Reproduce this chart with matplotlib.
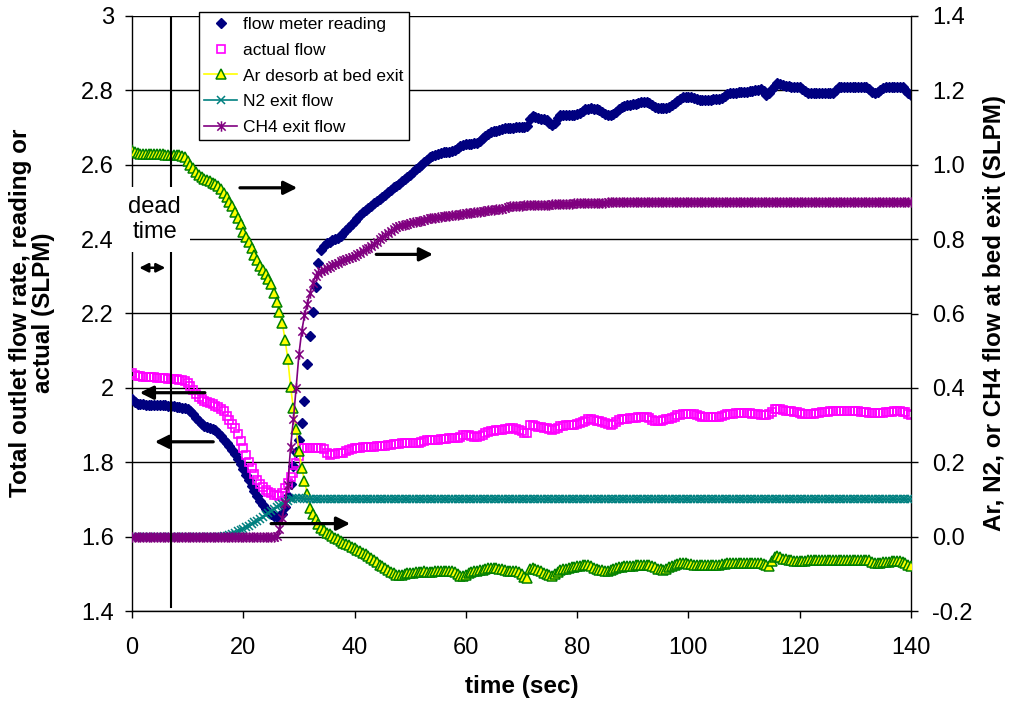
import numpy as np
import matplotlib
matplotlib.use("Agg")
import matplotlib.pyplot as plt
from matplotlib.path import Path

plt.rcParams['font.family'] = ['Liberation Sans', 'DejaVu Sans']

# ---------------- data (0.5 s sampling, t = 0 ... 140 s) ----------------
time_s = np.arange(281) * 0.5

flow_meter = [
    1.971, 1.962, 1.957, 1.956, 1.956, 1.955, 1.955, 1.955, 1.954, 1.954,
    1.954, 1.953, 1.953, 1.952, 1.951, 1.950, 1.949, 1.948, 1.947, 1.946,
    1.943, 1.937, 1.929, 1.919, 1.910, 1.903, 1.898, 1.894, 1.891, 1.889,
    1.886, 1.879, 1.870, 1.861, 1.853, 1.845, 1.832, 1.821, 1.808, 1.795,
    1.781, 1.766, 1.751, 1.737, 1.723, 1.709, 1.696, 1.684, 1.674, 1.666,
    1.660, 1.655, 1.652, 1.655, 1.662, 1.680, 1.710, 1.742, 1.790, 1.828,
    1.860, 1.905, 1.965, 2.065, 2.140, 2.205, 2.270, 2.336, 2.370, 2.381,
    2.389, 2.393, 2.397, 2.400, 2.404, 2.409, 2.416, 2.424, 2.432, 2.440,
    2.448, 2.457, 2.466, 2.473, 2.478, 2.484, 2.490, 2.497, 2.503, 2.509,
    2.514, 2.520, 2.527, 2.533, 2.539, 2.544, 2.549, 2.555, 2.561, 2.567,
    2.573, 2.581, 2.588, 2.593, 2.600, 2.607, 2.613, 2.621, 2.624, 2.627,
    2.629, 2.631, 2.633, 2.634, 2.635, 2.636, 2.639, 2.644, 2.650, 2.654,
    2.655, 2.656, 2.657, 2.658, 2.659, 2.664, 2.671, 2.678, 2.684, 2.688,
    2.690, 2.692, 2.694, 2.696, 2.698, 2.699, 2.700, 2.700, 2.701, 2.701,
    2.702, 2.702, 2.703, 2.722, 2.730, 2.728, 2.725, 2.723, 2.722, 2.720,
    2.713, 2.706, 2.712, 2.726, 2.733, 2.734, 2.734, 2.734, 2.734, 2.734,
    2.736, 2.740, 2.745, 2.749, 2.751, 2.752, 2.751, 2.750, 2.748, 2.742,
    2.736, 2.734, 2.734, 2.736, 2.743, 2.750, 2.756, 2.759, 2.761, 2.762,
    2.763, 2.764, 2.766, 2.768, 2.769, 2.770, 2.766, 2.760, 2.754, 2.752,
    2.752, 2.752, 2.752, 2.756, 2.762, 2.767, 2.771, 2.776, 2.781, 2.782,
    2.782, 2.781, 2.779, 2.777, 2.775, 2.775, 2.775, 2.775, 2.775, 2.776,
    2.776, 2.777, 2.780, 2.785, 2.790, 2.793, 2.794, 2.794, 2.795, 2.795,
    2.796, 2.796, 2.797, 2.798, 2.800, 2.802, 2.803, 2.797, 2.788, 2.792,
    2.803, 2.813, 2.820, 2.817, 2.814, 2.813, 2.811, 2.810, 2.810, 2.810,
    2.810, 2.805, 2.797, 2.793, 2.793, 2.793, 2.793, 2.793, 2.793, 2.793,
    2.793, 2.793, 2.793, 2.800, 2.808, 2.810, 2.810, 2.810, 2.810, 2.810,
    2.810, 2.810, 2.810, 2.810, 2.810, 2.804, 2.796, 2.793, 2.795, 2.800,
    2.806, 2.810, 2.810, 2.810, 2.810, 2.810, 2.810, 2.808, 2.800, 2.794,
    2.788,
]

actual_flow = [
    2.040, 2.035, 2.032, 2.031, 2.030, 2.029, 2.029, 2.028, 2.028, 2.027,
    2.027, 2.026, 2.026, 2.025, 2.024, 2.023, 2.023, 2.022, 2.020, 2.018,
    2.014, 2.004, 1.993, 1.983, 1.975, 1.970, 1.966, 1.963, 1.959, 1.956,
    1.952, 1.948, 1.943, 1.937, 1.925, 1.913, 1.902, 1.891, 1.877, 1.858,
    1.838, 1.820, 1.800, 1.784, 1.768, 1.753, 1.742, 1.733, 1.726, 1.720,
    1.716, 1.713, 1.711, 1.709, 1.716, 1.732, 1.744, 1.760, 1.771, 1.798,
    1.818, 1.838, 1.839, 1.838, 1.838, 1.838, 1.839, 1.838, 1.838, 1.835,
    1.826, 1.820, 1.822, 1.823, 1.824, 1.825, 1.826, 1.829, 1.832, 1.835,
    1.837, 1.838, 1.839, 1.840, 1.840, 1.841, 1.842, 1.842, 1.843, 1.844,
    1.844, 1.845, 1.846, 1.847, 1.848, 1.849, 1.850, 1.851, 1.852, 1.852,
    1.852, 1.852, 1.853, 1.853, 1.855, 1.857, 1.859, 1.860, 1.860, 1.861,
    1.861, 1.862, 1.862, 1.863, 1.864, 1.864, 1.865, 1.865, 1.867, 1.874,
    1.874, 1.873, 1.871, 1.869, 1.868, 1.870, 1.874, 1.878, 1.882, 1.883,
    1.884, 1.886, 1.887, 1.888, 1.889, 1.890, 1.892, 1.892, 1.890, 1.887,
    1.884, 1.880, 1.879, 1.901, 1.900, 1.898, 1.896, 1.894, 1.892, 1.891,
    1.890, 1.888, 1.889, 1.893, 1.897, 1.898, 1.899, 1.900, 1.901, 1.901,
    1.902, 1.905, 1.909, 1.912, 1.915, 1.915, 1.913, 1.911, 1.910, 1.908,
    1.905, 1.902, 1.901, 1.904, 1.909, 1.913, 1.915, 1.916, 1.917, 1.918,
    1.919, 1.920, 1.921, 1.922, 1.923, 1.923, 1.919, 1.914, 1.910, 1.910,
    1.911, 1.913, 1.915, 1.917, 1.920, 1.923, 1.926, 1.928, 1.929, 1.929,
    1.930, 1.930, 1.929, 1.927, 1.925, 1.923, 1.923, 1.923, 1.923, 1.923,
    1.923, 1.923, 1.925, 1.928, 1.930, 1.931, 1.931, 1.932, 1.932, 1.932,
    1.932, 1.932, 1.932, 1.931, 1.930, 1.929, 1.928, 1.928, 1.928, 1.929,
    1.936, 1.942, 1.943, 1.942, 1.940, 1.938, 1.937, 1.937, 1.935, 1.934,
    1.932, 1.931, 1.930, 1.930, 1.930, 1.931, 1.932, 1.933, 1.934, 1.935,
    1.936, 1.937, 1.937, 1.937, 1.937, 1.937, 1.937, 1.937, 1.937, 1.937,
    1.937, 1.937, 1.936, 1.935, 1.934, 1.933, 1.932, 1.932, 1.932, 1.932,
    1.933, 1.934, 1.935, 1.936, 1.937, 1.937, 1.937, 1.936, 1.934, 1.930,
    1.928,
]

ar_desorb = [
    1.040, 1.033, 1.031, 1.030, 1.030, 1.029, 1.029, 1.029, 1.028, 1.028,
    1.028, 1.028, 1.027, 1.027, 1.027, 1.026, 1.026, 1.025, 1.024, 1.020,
    1.011, 1.000, 0.990, 0.980, 0.973, 0.967, 0.962, 0.958, 0.955, 0.952,
    0.948, 0.942, 0.934, 0.924, 0.912, 0.899, 0.888, 0.874, 0.858, 0.840,
    0.820, 0.806, 0.792, 0.776, 0.757, 0.743, 0.727, 0.716, 0.705, 0.694,
    0.680, 0.655, 0.630, 0.603, 0.575, 0.530, 0.478, 0.403, 0.345, 0.290,
    0.230, 0.185, 0.150, 0.115, 0.078, 0.062, 0.048, 0.034, 0.024, 0.017,
    0.010, 0.006, 0.002, -0.003, -0.007, -0.012, -0.016, -0.020, -0.023, -0.027,
    -0.031, -0.035, -0.039, -0.043, -0.048, -0.053, -0.058, -0.063, -0.068, -0.075,
    -0.080, -0.084, -0.089, -0.094, -0.099, -0.102, -0.103, -0.102, -0.100, -0.099,
    -0.098, -0.097, -0.096, -0.095, -0.094, -0.093, -0.094, -0.095, -0.094, -0.093,
    -0.093, -0.092, -0.092, -0.093, -0.093, -0.093, -0.095, -0.100, -0.106, -0.107,
    -0.102, -0.097, -0.094, -0.093, -0.092, -0.091, -0.089, -0.087, -0.085, -0.084,
    -0.084, -0.084, -0.086, -0.088, -0.090, -0.092, -0.093, -0.093, -0.093, -0.095,
    -0.100, -0.108, -0.111, -0.086, -0.084, -0.086, -0.089, -0.093, -0.097, -0.101,
    -0.104, -0.107, -0.100, -0.094, -0.089, -0.088, -0.086, -0.084, -0.082, -0.081,
    -0.080, -0.078, -0.077, -0.075, -0.077, -0.080, -0.084, -0.087, -0.089, -0.091,
    -0.092, -0.093, -0.091, -0.088, -0.085, -0.083, -0.081, -0.080, -0.080, -0.079,
    -0.078, -0.077, -0.076, -0.076, -0.075, -0.075, -0.077, -0.080, -0.083, -0.086,
    -0.088, -0.089, -0.086, -0.082, -0.078, -0.075, -0.073, -0.071, -0.071, -0.072,
    -0.073, -0.074, -0.075, -0.075, -0.075, -0.075, -0.075, -0.075, -0.075, -0.075,
    -0.075, -0.075, -0.074, -0.073, -0.072, -0.071, -0.071, -0.071, -0.071, -0.071,
    -0.071, -0.071, -0.071, -0.071, -0.071, -0.071, -0.072, -0.074, -0.077, -0.080,
    -0.065, -0.055, -0.053, -0.056, -0.059, -0.061, -0.063, -0.064, -0.065, -0.066,
    -0.066, -0.065, -0.065, -0.064, -0.064, -0.063, -0.063, -0.063, -0.062, -0.062,
    -0.062, -0.062, -0.062, -0.062, -0.062, -0.062, -0.062, -0.062, -0.062, -0.062,
    -0.062, -0.062, -0.062, -0.062, -0.062, -0.064, -0.067, -0.070, -0.071, -0.070,
    -0.069, -0.068, -0.067, -0.066, -0.066, -0.066, -0.066, -0.067, -0.070, -0.075,
    -0.080,
]

n2_exit = [
    0.000, 0.000, 0.000, 0.000, 0.000, 0.000, 0.000, 0.000, 0.000, 0.000,
    0.000, 0.000, 0.000, 0.000, 0.000, 0.000, 0.000, 0.000, 0.000, 0.000,
    0.000, 0.000, 0.000, 0.000, 0.000, 0.000, 0.000, 0.000, 0.000, 0.000,
    0.000, 0.000, 0.000, 0.001, 0.003, 0.005, 0.008, 0.011, 0.014, 0.018,
    0.021, 0.025, 0.029, 0.033, 0.038, 0.043, 0.048, 0.053, 0.058, 0.063,
    0.068, 0.074, 0.079, 0.084, 0.089, 0.093, 0.097, 0.100, 0.102, 0.103,
    0.103, 0.103, 0.102, 0.101, 0.101, 0.100, 0.100, 0.100, 0.100, 0.100,
    0.100, 0.100, 0.100, 0.100, 0.100, 0.100, 0.100, 0.100, 0.100, 0.100,
    0.100, 0.100, 0.100, 0.100, 0.100, 0.100, 0.100, 0.100, 0.100, 0.100,
    0.100, 0.100, 0.100, 0.100, 0.100, 0.100, 0.100, 0.100, 0.100, 0.100,
    0.100, 0.100, 0.100, 0.100, 0.100, 0.100, 0.100, 0.100, 0.100, 0.100,
    0.100, 0.100, 0.100, 0.100, 0.100, 0.100, 0.100, 0.100, 0.100, 0.100,
    0.100, 0.100, 0.100, 0.100, 0.100, 0.100, 0.100, 0.100, 0.100, 0.100,
    0.100, 0.100, 0.100, 0.100, 0.100, 0.100, 0.100, 0.100, 0.100, 0.100,
    0.100, 0.100, 0.100, 0.100, 0.100, 0.100, 0.100, 0.100, 0.100, 0.100,
    0.100, 0.100, 0.100, 0.100, 0.100, 0.100, 0.100, 0.100, 0.100, 0.100,
    0.100, 0.100, 0.100, 0.100, 0.100, 0.100, 0.100, 0.100, 0.100, 0.100,
    0.100, 0.100, 0.100, 0.100, 0.100, 0.100, 0.100, 0.100, 0.100, 0.100,
    0.100, 0.100, 0.100, 0.100, 0.100, 0.100, 0.100, 0.100, 0.100, 0.100,
    0.100, 0.100, 0.100, 0.100, 0.100, 0.100, 0.100, 0.100, 0.100, 0.100,
    0.100, 0.100, 0.100, 0.100, 0.100, 0.100, 0.100, 0.100, 0.100, 0.100,
    0.100, 0.100, 0.100, 0.100, 0.100, 0.100, 0.100, 0.100, 0.100, 0.100,
    0.100, 0.100, 0.100, 0.100, 0.100, 0.100, 0.100, 0.100, 0.100, 0.100,
    0.100, 0.100, 0.100, 0.100, 0.100, 0.100, 0.100, 0.100, 0.100, 0.100,
    0.100, 0.100, 0.100, 0.100, 0.100, 0.100, 0.100, 0.100, 0.100, 0.100,
    0.100, 0.100, 0.100, 0.100, 0.100, 0.100, 0.100, 0.100, 0.100, 0.100,
    0.100, 0.100, 0.100, 0.100, 0.100, 0.100, 0.100, 0.100, 0.100, 0.100,
    0.100, 0.100, 0.100, 0.100, 0.100, 0.100, 0.100, 0.100, 0.100, 0.100,
    0.100,
]

ch4_exit = [
    0.000, 0.000, 0.000, 0.000, 0.000, 0.000, 0.000, 0.000, 0.000, 0.000,
    0.000, 0.000, 0.000, 0.000, 0.000, 0.000, 0.000, 0.000, 0.000, 0.000,
    0.000, 0.000, 0.000, 0.000, 0.000, 0.000, 0.000, 0.000, 0.000, 0.000,
    0.000, 0.000, 0.000, 0.000, 0.000, 0.000, 0.000, 0.000, 0.000, 0.000,
    0.000, 0.000, 0.000, 0.000, 0.000, 0.000, 0.000, 0.000, 0.000, 0.000,
    0.000, 0.000, 0.003, 0.020, 0.050, 0.090, 0.140, 0.240, 0.315, 0.400,
    0.490, 0.552, 0.595, 0.626, 0.656, 0.682, 0.701, 0.709, 0.714, 0.718,
    0.722, 0.726, 0.730, 0.733, 0.737, 0.740, 0.743, 0.746, 0.749, 0.752,
    0.755, 0.760, 0.764, 0.768, 0.773, 0.777, 0.782, 0.788, 0.793, 0.799,
    0.805, 0.810, 0.816, 0.822, 0.827, 0.832, 0.835, 0.837, 0.839, 0.841,
    0.843, 0.845, 0.847, 0.848, 0.850, 0.852, 0.854, 0.856, 0.857, 0.858,
    0.859, 0.860, 0.861, 0.862, 0.863, 0.864, 0.865, 0.866, 0.867, 0.868,
    0.869, 0.870, 0.871, 0.872, 0.873, 0.874, 0.875, 0.876, 0.877, 0.878,
    0.879, 0.880, 0.881, 0.882, 0.883, 0.887, 0.889, 0.889, 0.890, 0.890,
    0.890, 0.891, 0.891, 0.891, 0.892, 0.892, 0.892, 0.893, 0.893, 0.893,
    0.893, 0.894, 0.894, 0.894, 0.894, 0.895, 0.895, 0.895, 0.895, 0.896,
    0.896, 0.896, 0.896, 0.897, 0.897, 0.897, 0.897, 0.898, 0.898, 0.898,
    0.898, 0.899, 0.899, 0.899, 0.899, 0.899, 0.900, 0.900, 0.900, 0.900,
    0.900, 0.900, 0.900, 0.901, 0.901, 0.901, 0.901, 0.901, 0.901, 0.901,
    0.901, 0.901, 0.901, 0.901, 0.901, 0.901, 0.901, 0.901, 0.901, 0.901,
    0.900, 0.900, 0.900, 0.900, 0.900, 0.900, 0.900, 0.900, 0.900, 0.900,
    0.900, 0.900, 0.900, 0.900, 0.900, 0.900, 0.900, 0.900, 0.900, 0.900,
    0.900, 0.900, 0.900, 0.901, 0.901, 0.901, 0.901, 0.901, 0.901, 0.901,
    0.901, 0.901, 0.901, 0.901, 0.901, 0.901, 0.901, 0.901, 0.901, 0.901,
    0.901, 0.901, 0.901, 0.901, 0.901, 0.901, 0.901, 0.901, 0.901, 0.901,
    0.901, 0.901, 0.901, 0.901, 0.901, 0.901, 0.901, 0.901, 0.901, 0.901,
    0.901, 0.901, 0.901, 0.901, 0.901, 0.901, 0.901, 0.901, 0.901, 0.901,
    0.901, 0.901, 0.901, 0.901, 0.901, 0.901, 0.901, 0.901, 0.901, 0.901,
    0.901,
]

x_ticks = [0, 20, 40, 60, 80, 100, 120, 140]
left_ticks = [1.4, 1.6, 1.8, 2.0, 2.2, 2.4, 2.6, 2.8, 3.0]
left_labels = ["1.4", "1.6", "1.8", "2", "2.2", "2.4", "2.6", "2.8", "3"]
right_ticks = [-0.2, 0.0, 0.2, 0.4, 0.6, 0.8, 1.0, 1.2, 1.4]
right_labels = ["-0.2", "0.0", "0.2", "0.4", "0.6", "0.8", "1.0", "1.2", "1.4"]
dead_time = 7.0

# ---------------- figure ----------------
fig = plt.figure(figsize=(10.1, 7.02), dpi=100)
ax = fig.add_axes([132 / 1010, 91 / 702, 779 / 1010, 595 / 702])
ax2 = ax.twinx()

ax.set_xlim(0, 140)
ax.set_ylim(1.4, 3.0)
ax2.set_ylim(-0.2, 1.4)

# asterisk marker (x with a vertical bar)
star = Path([(-1, -1), (1, 1), (-1, 1), (1, -1), (0, -1.25), (0, 1.25)],
            [Path.MOVETO, Path.LINETO, Path.MOVETO, Path.LINETO, Path.MOVETO, Path.LINETO])

ax.plot(time_s, flow_meter, linestyle='none', marker='D', ms=5.2,
        color='#000080', mec='#000080', label='flow meter reading', zorder=3)
ax.plot(time_s, actual_flow, linestyle='none', marker='s', ms=5.6, mfc='none',
        mec='#FF00FF', mew=1.2, label='actual flow', zorder=3)

ax2.plot(time_s, ar_desorb, color='#FFFF00', lw=1.2, marker='^', ms=6.8,
         mfc='#FFFF00', mec='#008000', mew=1.1, label='Ar desorb at bed exit', zorder=3)
ax2.plot(time_s, n2_exit, color='#008080', lw=1.2, marker='x', ms=5.8,
         mew=1.1, label='N2 exit flow', zorder=3)
ax2.plot(time_s, ch4_exit, color='#800080', lw=1.2, marker=star, ms=7.5,
         mfc='none', mec='#800080', mew=1.1, label='CH4 exit flow', zorder=3)

# axes styling
ax.set_xticks(x_ticks)
ax.set_yticks(left_ticks)
ax.set_yticklabels(left_labels)
ax2.set_yticks(right_ticks)
ax2.set_yticklabels(right_labels)

ax.yaxis.grid(True, color='black', lw=1.0)
ax.set_axisbelow(True)

for s in ['top', 'right']:
    ax.spines[s].set_visible(False)
for s in ['top', 'left', 'bottom']:
    ax2.spines[s].set_visible(False)
for sp in [ax.spines['left'], ax.spines['bottom'], ax2.spines['right']]:
    sp.set_color('black')
    sp.set_linewidth(1.0)

ax.tick_params(axis='x', direction='out', length=5, width=1, pad=14, labelsize=17)
ax.tick_params(axis='y', direction='out', length=5, width=1, pad=8, labelsize=17)
ax2.tick_params(axis='y', direction='out', length=5, width=1, pad=10, labelsize=17)

# axis titles
fig.text(522 / 1010, 1 - 687 / 702, 'time (sec)', ha='center', va='center',
         fontsize=17.5, fontweight='bold')
fig.text(32 / 1010, 1 - 313 / 702, 'Total outlet flow rate, reading or\nactual (SLPM)',
         rotation=90, ha='center', va='center', fontsize=17.5, fontweight='bold',
         multialignment='center', linespacing=1.05)
fig.text(995 / 1010, 1 - 313 / 702, 'Ar, N2, or CH4 flow at bed exit (SLPM)',
         rotation=90, ha='center', va='center', fontsize=17.5, fontweight='bold')

# dead-time marker line
ax2.axvline(dead_time, ymin=0.006, ymax=0.997, color='black', lw=1.5, zorder=4)

# dead time label (white box breaks the lines)
ax2.text(4.1, 0.852, 'dead\ntime', ha='center', va='center', fontsize=17,
         linespacing=1.2, zorder=10, clip_on=False,
         bbox=dict(facecolor='white', edgecolor='none', pad=6.5))

# arrows (in right-axis coordinates)
arrow_kw = dict(arrowstyle='-|>', color='black', lw=2.3, mutation_scale=20,
                shrinkA=0, shrinkB=0)
ax2.annotate('', xy=(29.7, 0.938), xytext=(19.4, 0.938), arrowprops=arrow_kw, zorder=6)
ax2.annotate('', xy=(54.1, 0.759), xytext=(43.9, 0.759), arrowprops=arrow_kw, zorder=6)
ax2.annotate('', xy=(1.4, 0.387), xytext=(13.1, 0.387), arrowprops=arrow_kw, zorder=6)
ax2.annotate('', xy=(4.1, 0.255), xytext=(14.6, 0.255), arrowprops=arrow_kw, zorder=6)
ax2.annotate('', xy=(39.2, 0.035), xytext=(25.0, 0.035), arrowprops=arrow_kw, zorder=6)
ax2.annotate('', xy=(6.0, 0.723), xytext=(1.3, 0.723),
             arrowprops=dict(arrowstyle='<|-|>', color='black', lw=1.8,
                             mutation_scale=13, shrinkA=0, shrinkB=0), zorder=6)

# legend
h1, l1 = ax.get_legend_handles_labels()
h2, l2 = ax2.get_legend_handles_labels()
leg = ax2.legend(h1 + h2, l1 + l2, loc='upper left', bbox_to_anchor=(0.086, 1.0067),
                 borderaxespad=0, fontsize=12.5, frameon=True, fancybox=False,
                 framealpha=1, edgecolor='black', labelspacing=0.6,
                 handlelength=1.9, handletextpad=0.35, borderpad=0.3)
leg.get_frame().set_linewidth(1.0)
leg.set_zorder(20)

fig.savefig('out.png', dpi=100)
